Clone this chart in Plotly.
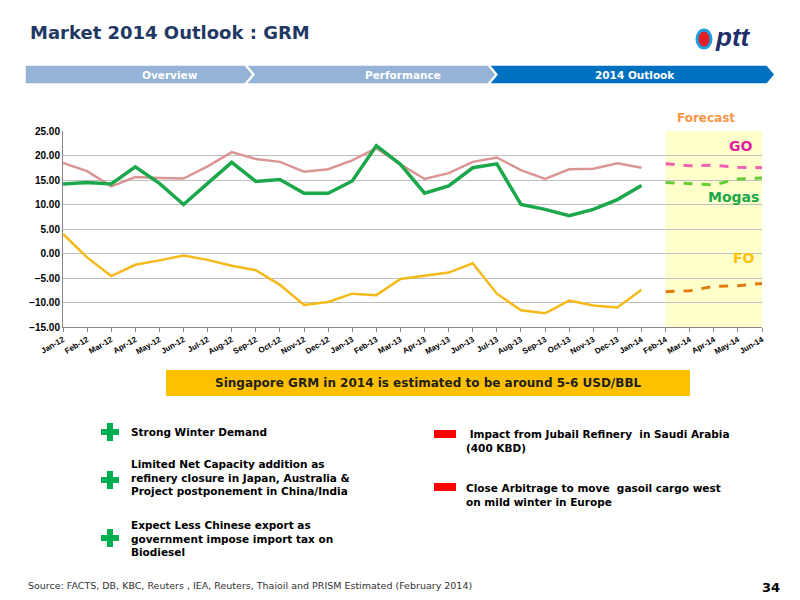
import plotly.graph_objects as go

months = ["Jan-12","Feb-12","Mar-12","Apr-12","May-12","Jun-12","Jul-12","Aug-12","Sep-12","Oct-12","Nov-12","Dec-12",
          "Jan-13","Feb-13","Mar-13","Apr-13","May-13","Jun-13","Jul-13","Aug-13","Sep-13","Oct-13","Nov-13","Dec-13",
          "Jan-14","Feb-14","Mar-14","Apr-14","May-14","Jun-14"]
hist = months[:25]
fcst = months[25:]
go_hist = [18.5,16.8,13.7,15.6,15.4,15.3,17.8,20.7,19.3,18.7,16.7,17.2,19.0,21.5,18.2,15.2,16.4,18.7,19.6,17.0,15.2,17.2,17.3,18.4,17.5]
mogas_hist = [14.2,14.5,14.2,17.7,14.3,10.0,14.3,18.6,14.7,15.1,12.3,12.3,14.8,22.0,18.2,12.3,13.8,17.5,18.3,10.0,9.0,7.7,9.0,11.0,13.9]
fo_hist = [4.0,-0.8,-4.6,-2.3,-1.4,-0.4,-1.3,-2.5,-3.4,-6.4,-10.5,-9.9,-8.2,-8.5,-5.2,-4.6,-3.9,-2.0,-8.2,-11.6,-12.2,-9.6,-10.6,-11.0,-7.4]
go_fc = [18.3,17.9,18.0,17.6,17.5]
mogas_fc = [14.5,14.3,14.0,15.2,15.4]
fo_fc = [-7.8,-7.6,-6.7,-6.6,-6.1]

OFF = 8
W, H = 800 - OFF, 600 - OFF
def px(x): return (x - OFF) / W
def py(y): return 1 - (y - OFF) / H

fig = go.Figure()
fig.add_trace(go.Scatter(x=hist, y=go_hist, mode="lines", line=dict(color="#d99694", width=2.5)))
fig.add_trace(go.Scatter(x=hist, y=mogas_hist, mode="lines", line=dict(color="#1aa84b", width=3.5)))
fig.add_trace(go.Scatter(x=hist, y=fo_hist, mode="lines", line=dict(color="#f5b918", width=2.5)))
fig.add_trace(go.Scatter(x=fcst, y=go_fc, mode="lines", line=dict(color="#f060b0", width=3, dash="dash")))
fig.add_trace(go.Scatter(x=fcst, y=mogas_fc, mode="lines", line=dict(color="#66cc33", width=3, dash="dash")))
fig.add_trace(go.Scatter(x=fcst, y=fo_fc, mode="lines", line=dict(color="#e07b10", width=3, dash="dash")))

shapes = []
shapes.append(dict(type="rect", xref="x", yref="y", x0=25, x1=29, y0=-15, y1=25,
                   fillcolor="#ffffcc", line=dict(width=0), layer="below"))
def chev(x0, x1, color, notch=True):
    yt, yb, ym = py(65), py(84), py(74.5)
    d = f"M{px(x0)},{yt} L{px(x1)},{yt} L{px(x1+8)},{ym} L{px(x1)},{yb} L{px(x0)},{yb}"
    if notch:
        d += f" L{px(x0+8)},{ym}"
    d += " Z"
    return dict(type="path", xref="paper", yref="paper", path=d, fillcolor=color, line=dict(color="white", width=1.5))
shapes.append(chev(25, 245, "#95b3d7", notch=False))
shapes.append(chev(246, 488, "#95b3d7"))
shapes.append(chev(489, 767, "#0070c0"))
shapes.append(dict(type="rect", xref="paper", yref="paper", x0=px(166), x1=px(690), y0=py(396), y1=py(370),
                   fillcolor="#ffc000", line=dict(width=0)))
for yc in [434, 487]:
    shapes.append(dict(type="rect", xref="paper", yref="paper", x0=px(434), x1=px(456), y0=py(yc + 4), y1=py(yc - 4),
                       fillcolor="#ff0000", line=dict(width=0)))
# green plus signs
for yc in [432, 480, 538]:
    shapes.append(dict(type="rect", xref="paper", yref="paper", x0=px(101), x1=px(119), y0=py(yc + 3), y1=py(yc - 3),
                       fillcolor="#00b050", line=dict(width=0)))
    shapes.append(dict(type="rect", xref="paper", yref="paper", x0=px(107), x1=px(113), y0=py(yc + 9), y1=py(yc - 9),
                       fillcolor="#00b050", line=dict(width=0)))
shapes.append(dict(type="circle", xref="paper", yref="paper", x0=px(697), x1=px(711), y0=py(48), y1=py(30),
                   fillcolor="#e31e24", line=dict(color="#1f9fe0", width=3)))

ann = []
def t(x, y, text, size=11, color="black", bold=True, xanchor="left", family="Verdana, DejaVu Sans"):
    ann.append(dict(xref="paper", yref="paper", x=px(x), y=py(y), text=f"<b>{text}</b>" if bold else text,
                    showarrow=False, xanchor=xanchor, yanchor="middle", align="left",
                    font=dict(size=size, color=color, family=family)))
t(28, 33, "Market 2014 Outlook : GRM", 18, "#1f3864")
t(713, 37, "<i>ptt</i>", 26, "#1f2d6b", family="Arial, Liberation Sans")
t(170, 74.5, "Overview", 10.5, "white", xanchor="center")
t(403, 74.5, "Performance", 10.5, "white", xanchor="center")
t(635, 74.5, "2014 Outlook", 10.5, "white", xanchor="center")
t(706, 118, "Forecast", 12, "#f79646", xanchor="center")
t(740, 146, "GO", 14, "#e020a0", xanchor="center")
t(733, 197, "Mogas", 14, "#1aa84b", xanchor="center")
t(744, 258, "FO", 14, "#ffc000", xanchor="center")
t(428, 383, "Singapore GRM in 2014 is estimated to be around 5-6 USD/BBL", 12, "#1f1f1f", xanchor="center")
t(129, 432, "Strong Winter Demand", 10.5)
t(129, 477, "Limited Net Capacity addition as<br>refinery closure in Japan, Australia &<br>Project postponement in China/India", 10.5)
t(129, 538, "Expect Less Chinese export as<br>government impose import tax on<br>Biodiesel", 10.5)
t(464, 441, " Impact from Jubail Refinery  in Saudi Arabia<br>(400 KBD)", 10.5)
t(464, 495, "Close Arbitrage to move  gasoil cargo west<br>on mild winter in Europe", 10.5)
t(26, 585, "Source: FACTS, DB, KBC, Reuters , IEA, Reuters, Thaioil and PRISM Estimated (February 2014)", 9.5, "#333333", bold=False)
t(782, 587, "34", 13, "black", xanchor="right")

fig.update_layout(
    width=W, height=H, margin=dict(l=0, r=0, t=0, b=0, autoexpand=False),
    paper_bgcolor="white", plot_bgcolor="white", showlegend=False,
    shapes=shapes, annotations=ann,
    xaxis=dict(domain=[px(63), px(762)], type="category", categoryorder="array", categoryarray=months,
               range=[0, 29], tickangle=-30,
               tickfont=dict(size=8, family="Liberation Sans", color="black", weight="bold"),
               showgrid=False, ticks="outside", ticklen=4, tickcolor="#888", showline=True, linecolor="#888",
               automargin=False),
    yaxis=dict(domain=[py(327), py(131)], range=[-15, 25], dtick=5, tickformat=".2f",
               tickfont=dict(size=10, family="Liberation Sans", color="black", weight="bold"),
               showgrid=True, gridcolor="#bfbfbf", zeroline=False, showline=True, linecolor="#888",
               automargin=False),
)
fig.write_html("out.html")
